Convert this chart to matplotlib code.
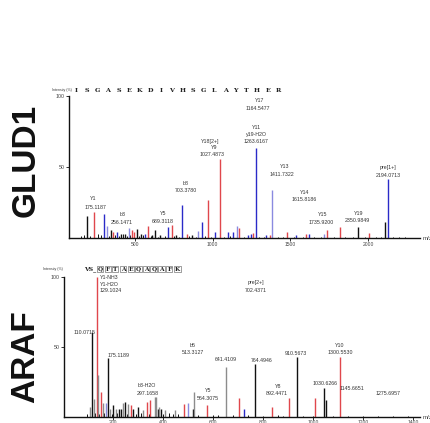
import matplotlib
matplotlib.use("Agg")
import matplotlib.pyplot as plt

plt.rcParams['font.family'] = ['Liberation Sans', 'DejaVu Sans']

COL = {'k': '#111111', 'g': '#8c8c8c', 'r': '#e0474c', 'p': '#8a8ae0', 'b': '#2a2ac8'}

# ---------------- GLUD1 panel data ----------------
glud_mz = [191, 236, 300, 320, 346, 358, 384, 410, 436, 461, 481, 494, 513, 539, 564,
           584, 609, 629, 661, 712, 738, 764, 802, 835, 867, 905, 931, 970, 1015, 1047,
           1098, 1131, 1156, 1169, 1227, 1246, 1259, 1279, 1343, 1369, 1382, 1478, 1536,
           1600, 1620, 1716, 1736, 1819, 1935, 2006, 2109, 2128]
glud_int = [15.5, 18, 17, 8.5, 5.6, 4, 4, 3, 3, 7, 5.5, 4, 6, 2.5, 3,
            8.7, 2, 5.5, 2, 7.5, 9.3, 2, 23, 3, 2, 5, 11, 27, 4, 55.6,
            4, 4, 8.5, 7, 2, 3, 3.5, 63.4, 2, 2, 33.8, 4, 2,
            2.5, 2.5, 2.5, 5.6, 7.7, 7.7, 3.5, 11, 41.5]
glud_col = ['k', 'r', 'b', 'p', 'k', 'r', 'b', 'k', 'k', 'p', 'r', 'r', 'k', 'k', 'b',
            'r', 'k', 'k', 'k', 'b', 'r', 'k', 'b', 'r', 'k', 'p', 'b', 'r', 'b', 'r',
            'b', 'b', 'p', 'r', 'b', 'b', 'r', 'b', 'b', 'r', 'p', 'r', 'b',
            'r', 'b', 'p', 'r', 'r', 'k', 'r', 'k', 'b']
glud_noise_mz = [150, 170, 210, 260, 280, 330, 370, 395, 420, 450, 470, 525, 550, 600,
                 650, 690, 750, 780, 850, 890, 950, 990, 1070, 1110, 1200, 1300, 1330,
                 1420, 1450, 1520, 1580, 1650, 1700, 1780, 1850, 1900, 1980, 2050, 2080,
                 2160, 2200, 2240]
glud_noise_int = [1.5, 2, 1.5, 2.5, 2, 1.5, 2, 1.5, 2.5, 1.5, 2, 1.5, 2, 1.5,
                  1, 1.5, 1.5, 1, 1.5, 1, 1.5, 1, 1, 1.5, 1, 1, 1,
                  1, 1, 1, 1, 1, 1, 1, 1, 1, 1, 1, 1,
                  1, 1, 1]
glud_labels = [
    ("Y1", 230, 27.5), ("175.1187", 243, 21.8),
    ("b3", 423, 16.5), ("256.1471", 416, 11),
    ("Y5", 680, 17.6), ("689.3118", 680, 11.5),
    ("b8", 828, 38.7), ("703.3780", 828, 33.8),
    ("Y18[2+]", 983, 68.3), ("Y9", 1008, 63.4), ("1027.4873", 996, 58.5),
    ("Y17", 1304, 96.5), ("1164.5477", 1292, 91.5),
    ("Y11", 1279, 78), ("y19-H2O", 1279, 73.2), ("1263.6167", 1279, 68.3),
    ("Y13", 1465, 50.7), ("1411.7322", 1446, 45),
    ("Y14", 1588, 31.7), ("1615.8186", 1588, 26.8),
    ("Y15", 1710, 16.2), ("1735.9200", 1697, 10.6),
    ("Y19", 1941, 17.6), ("2350.9849", 1929, 12),
    ("pre[1+]", 2128, 50), ("2194.0713", 2128, 43.7),
]
glud_seq = list("ISGASEKDIVHSGLAYTHER")
glud_xticks = [500, 1000, 1500, 2000]

# ---------------- ARAF panel data ----------------
araf_mz = [108, 117, 124, 135, 140, 152, 160, 172, 180, 188, 200, 212, 224, 232, 240,
           248, 260, 272, 280, 300, 320, 336, 348, 372, 368, 380, 384, 392, 408, 448,
           484, 500, 520, 524, 576, 652, 704, 724, 768, 836, 904, 936, 1008, 1044, 1052, 1108]
araf_int = [7, 61, 13, 100, 30, 18, 10, 10, 42, 6, 8.5, 6, 6, 6, 10,
            11, 9, 8.5, 6, 7, 5, 11, 12, 14, 14, 6, 7, 6, 5, 5,
            9, 10, 6, 18, 8.5, 36, 13.5, 6, 38, 7, 13.5, 43, 13.5, 21, 12, 43]
araf_col = ['g', 'k', 'g', 'r', 'g', 'r', 'g', 'p', 'k', 'g', 'k', 'g', 'k', 'k', 'g',
            'k', 'g', 'r', 'k', 'k', 'g', 'r', 'r', 'g', 'g', 'k', 'g', 'k', 'g', 'g',
            'r', 'p', 'k', 'g', 'r', 'g', 'r', 'b', 'k', 'r', 'r', 'k', 'r', 'k', 'k', 'r']
araf_noise_mz = [96, 128, 144, 164, 196, 216, 256, 292, 312, 344, 400, 424, 440, 460,
                 540, 600, 620, 680, 740, 800, 860, 880, 960, 1000, 1080, 1140, 1200,
                 1260, 1320, 1380]
araf_noise_int = [2, 3, 2, 3, 2, 3, 2, 2, 3, 2, 2, 3, 2, 2,
                  1.5, 1.5, 1.5, 1.5, 1.5, 1, 1.5, 1, 1, 1, 1, 1, 1,
                  1, 1, 1]
araf_labels = [
    ("110.0715", 88, 60.5),
    ("175.1189", 222, 44),
    ("b3-H2O", 336, 22.5), ("297.1658", 340, 16.8),
    ("b5", 520, 51.4), ("513.3127", 520, 46.4),
    ("Y5", 580, 18.6), ("564.3075", 580, 12.9),
    ("641.4109", 652, 41.4),
    ("pre[2+]", 772, 96.4), ("702.4371", 772, 90.7),
    ("764.4946", 796, 40.7),
    ("Y8", 860, 22), ("892.4471", 856, 17),
    ("910.5673", 932, 45.7),
    ("1030.6266", 1048, 23.6),
    ("Y10", 1108, 51.4), ("1300.5530", 1108, 46.4),
    ("1145.6651", 1156, 20.7),
    ("1275.6957", 1300, 17),
]
araf_top_labels = ["Y1-NH3", "Y1-H2O", "129.1024"]
araf_top_pos = (148, [99.3, 95, 90.7])
araf_seq_plain = "VS_"
araf_seq_boxed = list("QFTAEQAQAFK")
araf_xticks = [200, 400, 600, 800, 1000, 1200, 1400]

# ---------------- figure ----------------
W, H = 430, 423
fig = plt.figure(figsize=(W / 100, H / 100), dpi=100)
fig.patch.set_facecolor('white')


def style_axes(ax, xpad):
    for s in ('top', 'right'):
        ax.spines[s].set_visible(False)
    for s in ('left', 'bottom'):
        ax.spines[s].set_linewidth(1.0)
        ax.spines[s].set_color('#111111')
    ax.set_yticks([50, 100])
    ax.set_yticklabels(["50", "100"])
    ax.tick_params(axis='y', labelsize=3.8, length=2, width=0.6, pad=1,
                   colors='#111111', labelcolor='#444444')
    ax.tick_params(axis='x', labelsize=3.6, length=2, width=0.6, pad=xpad,
                   colors='#111111', labelcolor='#444444')
    ax.set_ylim(0, 100)


# GLUD1
ax1 = fig.add_axes([69 / W, 1 - 238 / H, (420 - 69) / W, (238 - 96) / H])
style_axes(ax1, 1)
ax1.set_xlim(75, 2334)
ax1.set_xticks(glud_xticks)
ax1.set_xticklabels([str(t) for t in glud_xticks])
ax1.vlines(glud_noise_mz, 0, glud_noise_int, colors=COL['k'], linewidth=0.7)
ax1.vlines(glud_mz, 0, glud_int, colors=[COL[c] for c in glud_col], linewidth=1.0)
for t, x, y in glud_labels:
    ax1.text(x, y, t, fontsize=3.8, ha='center', va='center', color='#333333', clip_on=False)

# ARAF
ax2 = fig.add_axes([64 / W, 1 - 417 / H, (420 - 64) / W, (417 - 277) / H])
style_axes(ax2, 0.3)
ax2.set_xlim(4, 1428)
ax2.set_xticks(araf_xticks)
ax2.set_xticklabels([str(t) for t in araf_xticks])
ax2.vlines(araf_noise_mz, 0, araf_noise_int, colors=COL['k'], linewidth=0.7)
ax2.vlines(araf_mz, 0, araf_int, colors=[COL[c] for c in araf_col], linewidth=1.0)
for t, x, y in araf_labels:
    ax2.text(x, y, t, fontsize=3.8, ha='center', va='center', color='#333333', clip_on=False)
for t, y in zip(araf_top_labels, araf_top_pos[1]):
    ax2.text(araf_top_pos[0], y, t, fontsize=3.8, ha='left', va='center', color='#333333', clip_on=False)

# headers
fig.text(52 / W, 1 - 90 / H, "Intensity (%)", fontsize=2.5, ha='left', va='center', color='#333333')
for i, ch in enumerate(glud_seq):
    fig.text((76 + i * 10.65) / W, 1 - 90 / H, ch, fontsize=4.6, ha='center', va='center',
             family='DejaVu Serif', fontweight='bold', color='#222222')
fig.text(43 / W, 1 - 269 / H, "Intensity (%)", fontsize=2.5, ha='left', va='center', color='#333333')
fig.text(84 / W, 1 - 269 / H, araf_seq_plain, fontsize=4.4, ha='left', va='center',
         family='DejaVu Serif', fontweight='bold', color='#222222')
for i, ch in enumerate(araf_seq_boxed):
    fig.text((100 + i * 7.7) / W, 1 - 269 / H, ch, fontsize=4.2, ha='center', va='center',
             family='DejaVu Serif', fontweight='bold', color='#222222',
             bbox=dict(boxstyle='square,pad=0.15', fc='none', ec='#555555', lw=0.4))

# m/z
fig.text(423 / W, 1 - 238 / H, "m/z", fontsize=4.5, ha='left', va='center', color='#444444')
fig.text(423 / W, 1 - 417 / H, "m/z", fontsize=4.5, ha='left', va='center', color='#444444')

# big protein names
fig.text(26 / W, 1 - 160 / H, "GLUD1", fontsize=24, fontweight='bold', rotation=90,
         ha='center', va='center', color='#111111')
fig.text(26 / W, 1 - 357 / H, "ARAF", fontsize=24, fontweight='bold', rotation=90,
         ha='center', va='center', color='#111111')

fig.savefig("out.png", dpi=100, facecolor='white')
